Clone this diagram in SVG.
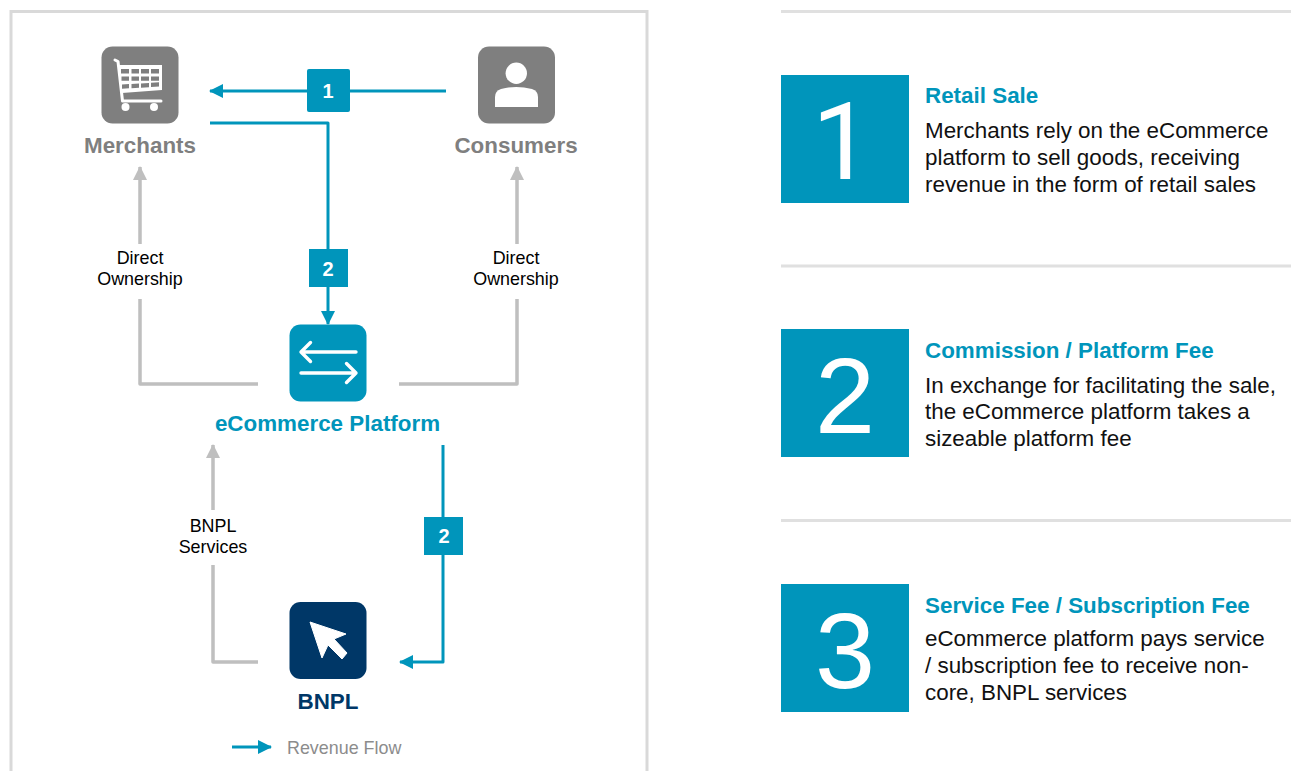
<svg xmlns="http://www.w3.org/2000/svg" width="1293" height="771" viewBox="0 0 1293 771">
<style>
text{font-family:"Liberation Sans",Arial,sans-serif}
.nl{font-size:22.4px;font-weight:700;text-anchor:middle}
.gray{fill:#7f7f7f}
.small{font-size:17.9px;fill:#000;text-anchor:middle}
.conn{fill:none;stroke-width:3;stroke-linejoin:round}
.rev{stroke:#0095bb}
.own{stroke:#bfbfbf;stroke-width:3.500}
.badge{fill:#0095bb}
.bt{font-size:20px;font-weight:700;fill:#fff;text-anchor:middle}
.bign{font-size:108px;fill:#fff;text-anchor:middle}
.h{font-size:22.4px;font-weight:700;fill:#0095bb}
.b{font-size:22.4px;fill:#111}
.rule{stroke:#e0e0e0;stroke-width:3}
.ic{fill:none;stroke:#fff;stroke-width:3.400;stroke-linecap:round;stroke-linejoin:round}
</style>
<defs>
<marker id="ar" markerUnits="userSpaceOnUse" markerWidth="14" markerHeight="14" refX="13" refY="7" orient="auto"><path d="M0 0L14 7L0 14Z" fill="#0095bb"/></marker>
<marker id="ag" markerUnits="userSpaceOnUse" markerWidth="14" markerHeight="14" refX="13" refY="7" orient="auto"><path d="M0 0L14 7L0 14Z" fill="#bfbfbf"/></marker>
</defs>
<rect x="11" y="11.500" width="636" height="775" fill="#fff" stroke="#d9d9d9" stroke-width="3"/>
<g id="connectors">
<path class="conn rev" marker-end="url(#ar)" d="M446 91H210"/>
<path class="conn rev" marker-end="url(#ar)" d="M210 123H328V324"/>
<path class="conn rev" marker-end="url(#ar)" d="M443 445V662H400"/>
<path class="conn own" marker-end="url(#ag)" d="M258 384H140V167"/>
<path class="conn own" marker-end="url(#ag)" d="M399 384H517V167"/>
<path class="conn own" marker-end="url(#ag)" d="M258 662H213V445"/>
<path class="conn rev" marker-end="url(#ar)" d="M232 747H271"/>
</g>
<g id="label-direct-1"><rect x="85" y="244" width="110" height="55" fill="#fff"/><text class="small" x="140" y="264">Direct</text><text class="small" x="140" y="285">Ownership</text></g>
<g id="label-direct-2"><rect x="461" y="244" width="110" height="55" fill="#fff"/><text class="small" x="516" y="264">Direct</text><text class="small" x="516" y="285">Ownership</text></g>
<g id="label-bnpl-services"><rect x="165" y="510" width="96" height="55" fill="#fff"/><text class="small" x="213" y="532">BNPL</text><text class="small" x="213" y="553">Services</text></g>
<g id="badge-1"><rect class="badge" x="307" y="69" width="43" height="43" rx="2"/><text class="bt" x="328" y="98">1</text></g>
<g id="badge-2a"><rect class="badge" x="309" y="249" width="39" height="38"/><text class="bt" x="328" y="276">2</text></g>
<g id="badge-2b"><rect class="badge" x="424" y="517" width="39" height="38"/><text class="bt" x="444" y="543">2</text></g>
<g id="merchants">
<rect x="101.500" y="46.500" width="77" height="77" rx="11" fill="#7f7f7f"/>
<path d="M115 60l3 1.500 4.500 39.500H161" fill="none" stroke="#fff" stroke-width="3" stroke-linecap="round" stroke-linejoin="round"/>
<path d="M118 65H162V90L122 93Z" fill="#fff"/>
<g fill="#7f7f7f"><path d="M121 69h8v4.500h-8zM131.500 69h7.500v4.500h-7.500zM141 69h8v4.500h-8zM151 69h8v4.500h-8zM121.500 76.500h7.500v4.300h-7.500zM131.500 76.500h7.500v4.300h-7.500zM141 76.500h8v4.300h-8zM151 76.500h8v4.300h-8zM122 84.500l7-.5v4.200l-7 .5zM131.500 84l7.500-.5v4.200l-7.500.5zM141 83.500l8-.5v4.200l-8 .5zM151 82.800l8-.5v4.200l-8 .5z"/></g>
<circle cx="125.500" cy="107" r="4" fill="#fff"/><circle cx="154" cy="107" r="4" fill="#fff"/>
<text class="nl gray" x="140" y="153">Merchants</text>
</g>
<g id="consumers">
<rect x="478" y="46.500" width="77" height="77" rx="11" fill="#7f7f7f"/>
<circle cx="516.300" cy="73.300" r="10.700" fill="#fff"/>
<path d="M495 107v-10q0-6 6-8 15-4 31 0 6 2 6 8v10z" fill="#fff"/>
<text class="nl gray" x="516" y="153">Consumers</text>
</g>
<g id="ecommerce-platform">
<rect x="289.500" y="324.500" width="77" height="77" rx="11" fill="#0095bb"/>
<path class="ic" d="M356 352H301M310.500 342.500l-9.500 9.500 9.500 9.500M301 373H356M346.500 363.500l9.500 9.500-9.500 9.500"/>
<text class="nl" x="327.500" y="431" fill="#0095bb">eCommerce Platform</text>
</g>
<g id="bnpl">
<rect x="289.500" y="602" width="77" height="77" rx="11" fill="#003767"/>
<path d="M310 622L346 634 334 639 347 653 342 659 328 645 322 658Z" fill="#fff" stroke="#fff" stroke-linejoin="round"/>
<text class="nl" x="328" y="709" fill="#003767">BNPL</text>
</g>
<g id="legend"><text x="287" y="754" font-size="17.900" fill="#8c8c8c">Revenue Flow</text></g>
<g id="rules"><path class="rule" d="M781 11.500H1291M781 266H1291M781 520.500H1291"/></g>
<g id="item-1"><rect class="badge" x="781" y="75" width="128" height="128"/><text class="bign" x="842" y="178.500" style="font-family:Roboto,'Liberation Sans',sans-serif;font-weight:400;font-size:107px">1</text>
<text class="h" x="925" y="103">Retail Sale</text><text class="b" x="925" y="138">Merchants rely on the eCommerce</text><text class="b" x="925" y="165">platform to sell goods, receiving</text><text class="b" x="925" y="192">revenue in the form of retail sales</text></g>
<g id="item-2"><rect class="badge" x="781" y="329" width="128" height="128"/><text class="bign" x="845" y="433">2</text>
<text class="h" x="925" y="358">Commission / Platform Fee</text><text class="b" x="925" y="393">In exchange for facilitating the sale,</text><text class="b" x="925" y="419">the eCommerce platform takes a</text><text class="b" x="925" y="446">sizeable platform fee</text></g>
<g id="item-3"><rect class="badge" x="781" y="584" width="128" height="128"/><text class="bign" x="845" y="688">3</text>
<text class="h" x="925" y="613">Service Fee / Subscription Fee</text><text class="b" x="925" y="646">eCommerce platform pays service</text><text class="b" x="925" y="673">/ subscription fee to receive non-</text><text class="b" x="925" y="700">core, BNPL services</text></g>
</svg>
